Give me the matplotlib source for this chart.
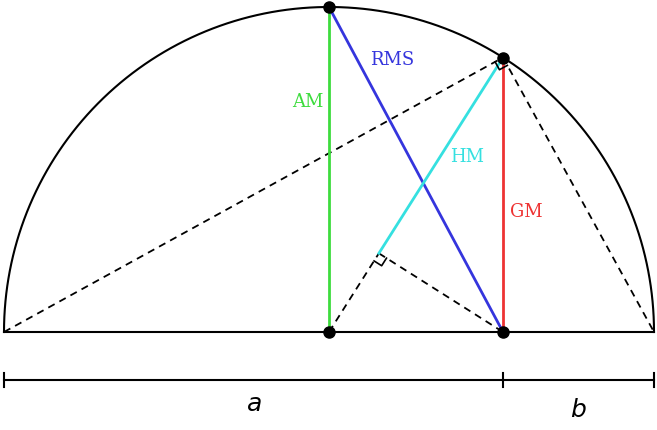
import numpy as np
import matplotlib.pyplot as plt

# segment lengths (1 unit = 100 px)
a = 4.99
b = 1.51
labels = ['AM', 'RMS', 'HM', 'GM']
colors = {'AM': '#3ddc3d', 'RMS': '#3535dd', 'HM': '#35e0e0', 'GM': '#ee3333'}

R = (a + b) / 2
O = np.array([R, 0.0])
D = np.array([a, 0.0])
G = np.array([a, np.sqrt(a * b)])
T = np.array([R, R])
L = np.array([0.0, 0.0])
Rt = np.array([a + b, 0.0])
u = (G - O) / np.linalg.norm(G - O)
F = O + np.dot(D - O, u) * u

fig = plt.figure(figsize=(6.57, 4.30), dpi=100)
ax = fig.add_axes([0, 0, 1, 1])
ax.set_xlim(-0.04, 6.53)
ax.set_ylim(-0.98, 3.32)
ax.axis('off')

t = np.linspace(0, np.pi, 400)
ax.plot(R + R * np.cos(t), R * np.sin(t), color='k', lw=1.5)
ax.plot([0, a + b], [0, 0], color='k', lw=1.5)

dash = dict(color='k', lw=1.3, ls=(0, (4, 3)))
ax.plot(*zip(L, G), **dash)
ax.plot(*zip(G, Rt), **dash)
ax.plot(*zip(O, F), **dash)
ax.plot(*zip(F, D), **dash)

ax.plot(*zip(O, T), color=colors['AM'], lw=2)
ax.plot(*zip(T, D), color=colors['RMS'], lw=2)
ax.plot(*zip(G, F), color=colors['HM'], lw=2)
ax.plot(*zip(G, D), color=colors['GM'], lw=2)

def right_angle(P, A, B, s=0.09):
    v1 = (A - P) / np.linalg.norm(A - P)
    v2 = (B - P) / np.linalg.norm(B - P)
    pts = np.array([P + s * v1, P + s * v1 + s * v2, P + s * v2])
    ax.plot(pts[:, 0], pts[:, 1], color='k', lw=1.2)

right_angle(G, L, Rt)
right_angle(F, O, D)

for p in [T, G, O, D]:
    ax.plot(p[0], p[1], 'o', color='k', ms=8, zorder=5)

fs = 13
ax.text(R - 0.06, 2.3, 'AM', color=colors['AM'], fontsize=fs, family='serif', ha='right', va='center')
ax.text(3.66, 2.72, 'RMS', color=colors['RMS'], fontsize=fs, family='serif', va='center')
ax.text(4.46, 1.75, 'HM', color=colors['HM'], fontsize=fs, family='serif', va='center')
ax.text(5.06, 1.2, 'GM', color=colors['GM'], fontsize=fs, family='serif', va='center')

# measurement bar
yb = -0.48
ax.plot([0, a + b], [yb, yb], color='k', lw=1.5)
for x in [0, a, a + b]:
    ax.plot([x, x], [yb - 0.07, yb + 0.07], color='k', lw=1.5)
ax.text(a / 2, -0.72, '$a$', fontsize=18, ha='center', va='center')
ax.text(a + b / 2, -0.78, '$b$', fontsize=18, ha='center', va='center')

plt.rcParams['mathtext.fontset'] = 'cm'
fig.savefig('out.png', dpi=100)
